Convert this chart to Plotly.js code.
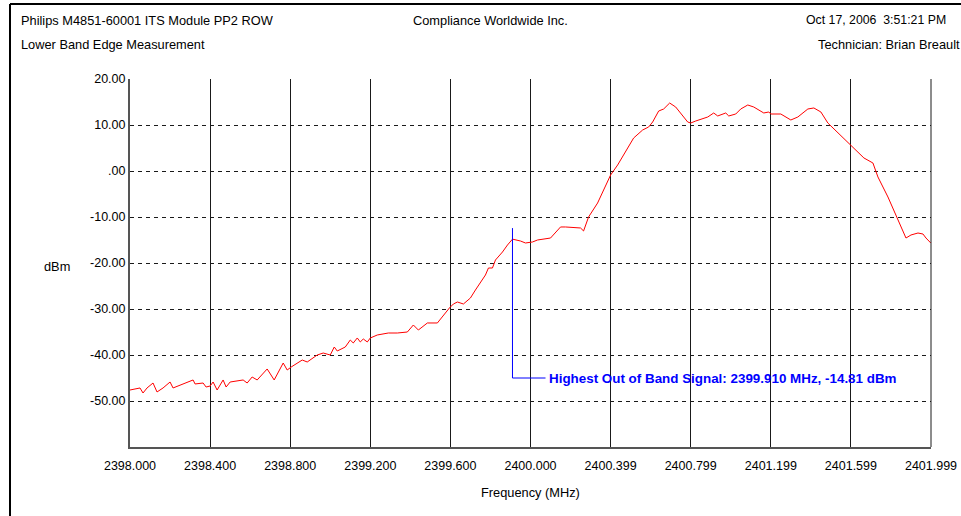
<!DOCTYPE html>
<html>
<head>
<meta charset="utf-8">
<script src="https://cdn.plot.ly/plotly-3.0.1.min.js"></script>
<style>html,body{margin:0;padding:0;background:#fff;}#chart{width:961px;height:516px;}</style>
</head>
<body>
<div id="chart"></div>
<script>
// Frequency (MHz)
const freq = [
  2398.000, 2398.050, 2398.065, 2398.085, 2398.115, 2398.135, 2398.165, 2398.200, 2398.215, 2398.265,
  2398.315, 2398.325, 2398.365, 2398.380, 2398.400, 2398.415, 2398.435, 2398.465, 2398.480, 2398.500,
  2398.565, 2398.585, 2398.610, 2398.635, 2398.685, 2398.720, 2398.765, 2398.785, 2398.805, 2398.860,
  2398.885, 2398.935, 2398.965, 2399.000, 2399.020, 2399.035, 2399.075, 2399.100, 2399.115, 2399.135,
  2399.150, 2399.165, 2399.185, 2399.200, 2399.235, 2399.290, 2399.335, 2399.385, 2399.415, 2399.440,
  2399.485, 2399.535, 2399.565, 2399.595, 2399.615, 2399.635, 2399.665, 2399.700, 2399.725, 2399.760,
  2399.775, 2399.790, 2399.810, 2399.825, 2399.860, 2399.885, 2399.910, 2399.950, 2399.975, 2400.010,
  2400.035, 2400.100, 2400.125, 2400.150, 2400.175, 2400.250, 2400.265, 2400.290, 2400.335, 2400.365,
  2400.400, 2400.435, 2400.465, 2400.515, 2400.560, 2400.590, 2400.610, 2400.640, 2400.665, 2400.695,
  2400.725, 2400.750, 2400.785, 2400.800, 2400.825, 2400.885, 2400.915, 2400.935, 2400.975, 2400.990,
  2401.025, 2401.050, 2401.085, 2401.115, 2401.165, 2401.190, 2401.200, 2401.250, 2401.300, 2401.335,
  2401.385, 2401.415, 2401.450, 2401.485, 2401.535, 2401.585, 2401.615, 2401.665, 2401.710, 2401.735,
  2401.785, 2401.835, 2401.875, 2401.900, 2401.935, 2401.960, 2401.975, 2401.999
];
// Level (dBm)
const level = [
  -47.61, -47.17, -48.26, -47.17, -46.09, -48.04, -47.17, -45.87, -47.17, -46.30,
  -45.43, -46.30, -46.09, -46.96, -46.74, -45.87, -47.61, -45.43, -46.96, -45.87,
  -45.43, -46.09, -44.78, -45.43, -43.04, -45.43, -41.74, -43.26, -42.61, -41.09,
  -41.52, -40.00, -39.57, -40.00, -38.26, -39.13, -38.26, -36.74, -37.39, -36.30,
  -37.17, -36.52, -37.17, -36.30, -35.65, -35.22, -35.22, -35.00, -33.48, -34.57,
  -33.04, -33.04, -31.30, -29.78, -28.91, -28.48, -28.91, -27.61, -25.87, -23.70,
  -22.61, -21.09, -21.09, -19.35, -17.61, -16.09, -14.81, -15.22, -15.65, -15.43,
  -15.00, -14.57, -13.26, -12.17, -12.17, -12.39, -13.04, -10.00, -6.96, -4.13,
  -0.87, 1.30, 3.48, 7.17, 8.91, 9.57, 10.65, 13.04, 13.48, 14.78,
  13.91, 12.61, 10.65, 10.43, 10.87, 11.74, 12.61, 11.96, 12.61, 11.96,
  12.39, 13.48, 14.35, 13.91, 12.61, 12.83, 12.39, 12.39, 11.09, 11.74,
  13.48, 13.70, 12.83, 10.43, 8.26, 6.30, 5.00, 2.83, 1.74, -1.30,
  -5.65, -10.65, -14.57, -13.91, -13.48, -13.70, -14.57, -15.65
];
const xTickVals = [2398.0, 2398.4, 2398.8, 2399.2, 2399.6, 2400.0, 2400.4, 2400.8, 2401.2, 2401.6, 2402.0];
const xTickText = ["2398.000", "2398.400", "2398.800", "2399.200", "2399.600", "2400.000", "2400.399", "2400.799", "2401.199", "2401.599", "2401.999"];
const yTickVals = [20, 10, 0, -10, -20, -30, -40, -50];
const yTickText = ["20.00", "10.00", ".00", "-10.00", "-20.00", "-30.00", "-40.00", "-50.00"];
const peakFreq = 2399.910;
const peakLevel = -14.81;

const FONT = "Liberation Sans, Arial, sans-serif";
const markerTop = peakLevel + 2.4;
const markerBottom = -45;
const labelFreq = 2400.075;

const traces = [
  {x: freq, y: level, type: 'scatter', mode: 'lines', line: {color: '#ff0000', width: 1}, hoverinfo: 'skip', showlegend: false},
  {x: [peakFreq, peakFreq, labelFreq], y: [markerTop, markerBottom, markerBottom], type: 'scatter', mode: 'lines',
   line: {color: '#0000ff', width: 1}, hoverinfo: 'skip', showlegend: false}
];

const hdr = (text, x, y, xanchor, extra) => Object.assign({text: text, xref: 'paper', yref: 'paper', x: x, y: y, xanchor: xanchor, yanchor: 'middle', showarrow: false, font: {family: FONT, size: 12.8, color: '#000'}}, extra || {});

const layout = {
  width: 961, height: 516,
  margin: {l: 130, r: 30, t: 79, b: 69, pad: 0},
  paper_bgcolor: '#fff', plot_bgcolor: '#fff',
  font: {family: FONT, size: 12.5, color: '#000'},
  showlegend: false,
  xaxis: {
    range: [2398, 2402], tickvals: xTickVals, ticktext: xTickText,
    showgrid: true, gridcolor: '#1a1a1a', gridwidth: 1,
    showline: true, linecolor: '#555', linewidth: 2,
    zeroline: false, ticks: '', ticklabelstandoff: 6,
    tickfont: {family: FONT, size: 12.5, color: '#000'}
  },
  yaxis: {
    range: [-60, 20], tickvals: yTickVals, ticktext: yTickText,
    showgrid: true, gridcolor: '#1a1a1a', gridwidth: 1, griddash: '4px,4px',
    showline: true, linecolor: '#555', linewidth: 2,
    zeroline: false, ticks: '', ticklabelstandoff: 0,
    tickfont: {family: FONT, size: 12.5, color: '#000'}
  },
  shapes: [
    {type: 'line', xref: 'paper', yref: 'paper', x0: 1, x1: 1, y0: 0, y1: 1, line: {color: '#1a1a1a', width: 1}},
    {type: 'line', xref: 'paper', yref: 'paper', x0: -120/801, x1: -120/801, y0: -2, y1: 75/368 + 1, line: {color: '#000', width: 2}},
    {type: 'line', xref: 'paper', yref: 'paper', x0: -120/801, x1: 2, y0: 75/368 + 1, y1: 75/368 + 1, line: {color: '#000', width: 2}}
  ],
  annotations: [
    hdr('Philips M4851-60001 ITS Module PP2 ROW', -111/801, 1 + 59/368, 'left'),
    hdr('Compliance Worldwide Inc.', 360/801, 1 + 59/368, 'center'),
    hdr('Oct 17, 2006&nbsp;&nbsp;3:51:21 PM', 818/801, 1 + 59/368, 'right', {font: {family: FONT, size: 12.3, color: '#000'}}),
    hdr('Lower Band Edge Measurement', -111/801, 1 + 34/368, 'left'),
    hdr('Technician: Brian Breault', 832/801, 1 + 34/368, 'right'),
    hdr('dBm', -73/801, 1 - 187/368, 'center'),
    hdr('Frequency (MHz)', 400/801, -45/368, 'center'),
    {text: '<b>Highest Out of Band Signal: ' + peakFreq.toFixed(3) + ' MHz, ' + peakLevel.toFixed(2) + ' dBm</b>',
     xref: 'x', yref: 'y', x: labelFreq, y: markerBottom, xanchor: 'left', yanchor: 'middle', xshift: 1,
     showarrow: false, font: {family: FONT, size: 13.4, color: '#0000ff'}}
  ]
};

Plotly.newPlot('chart', traces, layout, {staticPlot: true, displayModeBar: false});
</script>
</body>
</html>
